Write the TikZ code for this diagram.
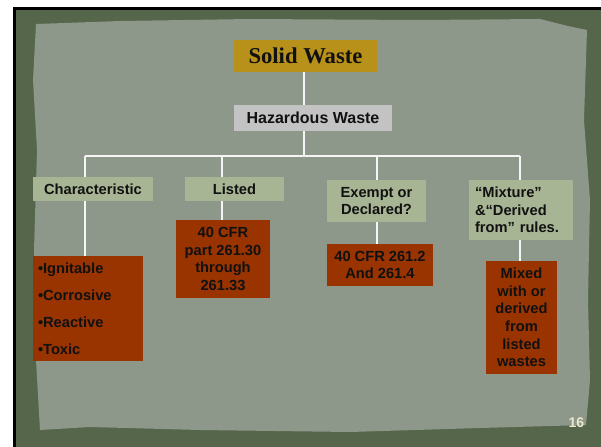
\documentclass[tikz,border=0pt]{standalone}
\usepackage{fontspec}
\setsansfont{Liberation Sans}
\newfontfamily\titlefont{Liberation Serif}
\usepackage{tikz}

\definecolor{frameGreen}{RGB}{86,102,74}
\definecolor{paperGrey}{RGB}{141,151,138}
\definecolor{goldBox}{RGB}{184,145,26}
\definecolor{greyBox}{RGB}{195,195,195}
\definecolor{greenBox}{RGB}{167,181,148}
\definecolor{rustBox}{RGB}{153,51,0}
\definecolor{inkText}{RGB}{17,17,17}
\definecolor{pageNum}{RGB}{236,232,204}

\newcommand{\pxu}{0.75pt}

\tikzset{
  box/.style={inner sep=0pt, text=inkText, font=\sffamily\bfseries\fontsize{11}{13.2}\selectfont},
  tierbox/.style={box, fill=greenBox},
  rustbox/.style={box, fill=rustBox},
  link/.style={draw=white!92!gray, line width=0.9pt}
}

\begin{document}
\begin{tikzpicture}[x=0.75pt,y=0.75pt,yscale=-1,xscale=1]
\useasboundingbox (0,0) rectangle (601,447);

%Shape: slide frame
\fill [white] (0,0) rectangle (601,447);
\fill [black] (13,7) rectangle (601,447);
\fill [frameGreen] (16,10) rectangle (601,447);
%Shape: paper
\fill [paperGrey] (36,24) -- (120,21) -- (250,19) -- (420,20) -- (540,19) -- (568,26) -- (587,30)
  -- (584,120) -- (590,200) -- (588,300) -- (590,380) -- (586,425)
  -- (480,428) -- (350,432) -- (200,430) -- (90,427) -- (40,430)
  -- (36,360) -- (34,250) -- (37,150) -- (33,80) -- cycle;

% Top boxes
\node [box, fill=goldBox, minimum width=143*\pxu, minimum height=32*\pxu, font=\titlefont\bfseries\fontsize{17}{20}\selectfont] (solid) at (305.5,56) {Solid Waste};
\node [box, fill=greyBox, minimum width=158*\pxu, minimum height=26*\pxu, font=\sffamily\bfseries\fontsize{12}{14}\selectfont] (hazard) at (313,118) {Hazardous Waste};

% Second row
\node [tierbox, minimum width=120*\pxu, minimum height=24*\pxu] (charac) at (93,189) {Characteristic};
\node [tierbox, minimum width=99*\pxu, minimum height=24*\pxu] (listed) at (234.5,189) {Listed};
\node [tierbox, minimum width=99*\pxu, minimum height=42*\pxu, align=center] (exempt) at (376.5,201) {Exempt or\\Declared?};
\node [tierbox, minimum width=104*\pxu, minimum height=60*\pxu, text width=92*\pxu, align=left] (mixrule) at (521,210) {“Mixture”\\\&“Derived\\from” rules.};

% Third row
\node [rustbox, minimum width=110*\pxu, minimum height=105*\pxu, text width=100*\pxu, align=left] (hazlist) at (88,308.5) {•Ignitable\\[7pt]•Corrosive\\[7pt]•Reactive\\[7pt]•Toxic};
\node [rustbox, minimum width=94*\pxu, minimum height=78*\pxu, align=center] (cfrpart) at (223,259) {40 CFR\\part 261.30\\through\\261.33};
\node [rustbox, minimum width=106*\pxu, minimum height=42*\pxu, align=center] (cfrexempt) at (380,265) {40 CFR 261.2\\And 261.4};
\node [rustbox, minimum width=71*\pxu, minimum height=113*\pxu, align=center] (mixed) at (521.5,317.5) {Mixed\\with or\\derived\\from\\listed\\wastes};

% Page number
\node [font=\sffamily\bfseries\fontsize{10.5}{12}\selectfont, text=pageNum] (pagenum) at (576.5,422.5) {16};

% Connectors
\coordinate (trunk) at (304,156);
\coordinate (busA) at (85,156);
\coordinate (busB) at (222,156);
\coordinate (busC) at (377,156);
\coordinate (busD) at (520,156);

\draw [link] (trunk |- solid.south) -- (trunk |- hazard.north);
\draw [link] (trunk |- hazard.south) -- (trunk);
\draw [link] (busA) -- (busD);
\draw [link] (busA) -- (busA |- charac.north);
\draw [link] (busB) -- (busB |- listed.north);
\draw [link] (busC) -- (busC |- exempt.north);
\draw [link] (busD) -- (busD |- mixrule.north);
\draw [link] (busA |- charac.south) -- (busA |- hazlist.north);
\draw [link] (busB |- listed.south) -- (busB |- cfrpart.north);
\draw [link] (busC |- exempt.south) -- (busC |- cfrexempt.north);
\draw [link] (busD |- mixrule.south) -- (busD |- mixed.north);

\end{tikzpicture}
\end{document}
